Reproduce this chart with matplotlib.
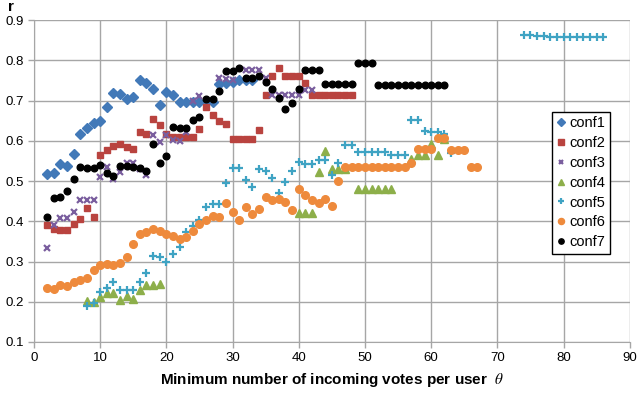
import matplotlib
matplotlib.use('Agg')
import matplotlib.pyplot as plt
import numpy as np

plt.rcParams['font.family'] = ['Liberation Sans', 'DejaVu Sans']
plt.rcParams['mathtext.fontset'] = 'stix'

# conf1
x1 = list(range(2, 34))
y1 = [0.518, 0.521, 0.542, 0.537, 0.567, 0.616, 0.632, 0.645, 0.648, 0.685,
      0.72, 0.717, 0.704, 0.71, 0.752, 0.743, 0.728, 0.689, 0.722, 0.714,
      0.697, 0.697, 0.697, 0.697, 0.697, 0.697, 0.742, 0.743, 0.745, 0.75,
      0.75, 0.75]

# conf2
x2 = list(range(2, 49))
y2 = [0.39, 0.382, 0.379, 0.379, 0.392, 0.406, 0.433, 0.41, 0.564, 0.577,
      0.587, 0.593, 0.585, 0.579, 0.621, 0.616, 0.654, 0.639, 0.616, 0.61,
      0.61, 0.61, 0.61, 0.629, 0.685, 0.664, 0.648, 0.643, 0.604, 0.604,
      0.604, 0.604, 0.627, 0.714, 0.762, 0.781, 0.76, 0.76, 0.76, 0.743,
      0.714, 0.714, 0.714, 0.714, 0.714, 0.714, 0.714]

# conf3
x3 = list(range(2, 26)) + [28, 29, 30] + list(range(32, 43))
y3 = [0.333, 0.39, 0.408, 0.408, 0.423, 0.452, 0.452, 0.454, 0.511, 0.536,
      0.506, 0.522, 0.546, 0.544, 0.529, 0.515, 0.614, 0.597, 0.614, 0.603,
      0.6, 0.621, 0.70, 0.712,
      0.757, 0.754, 0.75,
      0.775, 0.775, 0.775, 0.757, 0.714, 0.714, 0.714, 0.714, 0.714, 0.727,
      0.727]

# conf4
x4 = list(range(8, 20)) + list(range(40, 48)) + list(range(49, 55)) + list(range(57, 63))
y4 = [0.202, 0.2, 0.212, 0.222, 0.221, 0.204, 0.214, 0.208, 0.229, 0.242,
      0.242, 0.244,
      0.421, 0.421, 0.421, 0.523, 0.575, 0.53, 0.53, 0.53,
      0.479, 0.479, 0.479, 0.479, 0.479, 0.479,
      0.554, 0.564, 0.564, 0.592, 0.564, 0.604]

# conf5
x5 = list(range(8, 64)) + list(range(74, 87))
y5 = [0.189, 0.196, 0.225, 0.233, 0.248, 0.229, 0.228, 0.229, 0.25, 0.272,
      0.314, 0.311, 0.3, 0.318, 0.337, 0.373, 0.388, 0.403, 0.435, 0.443,
      0.443, 0.496, 0.533, 0.532, 0.502, 0.485, 0.529, 0.525, 0.508, 0.471,
      0.497, 0.525, 0.547, 0.542, 0.542, 0.552, 0.552, 0.514, 0.546, 0.59,
      0.59, 0.571, 0.571, 0.571, 0.571, 0.571, 0.565, 0.565, 0.565, 0.652,
      0.652, 0.625, 0.621, 0.621, 0.617, 0.569,
      0.862, 0.862, 0.861, 0.861, 0.859, 0.859, 0.858, 0.858, 0.858, 0.858,
      0.858, 0.858, 0.858]

# conf6
x6 = list(range(2, 68))
y6 = [0.233, 0.231, 0.242, 0.24, 0.248, 0.253, 0.258, 0.278, 0.292, 0.294,
      0.292, 0.296, 0.31, 0.344, 0.368, 0.373, 0.382, 0.375, 0.369, 0.364,
      0.357, 0.36, 0.375, 0.392, 0.403, 0.414, 0.41, 0.446, 0.423, 0.404,
      0.435, 0.418, 0.431, 0.46, 0.452, 0.456, 0.448, 0.429, 0.479, 0.465,
      0.454, 0.446, 0.456, 0.439, 0.5, 0.536, 0.536, 0.536, 0.536, 0.536,
      0.536, 0.536, 0.536, 0.536, 0.536, 0.546, 0.579, 0.579, 0.579, 0.608,
      0.608, 0.577, 0.577, 0.577, 0.535, 0.535]

# conf7
x7 = list(range(2, 63))
y7 = [0.411, 0.457, 0.46, 0.475, 0.506, 0.536, 0.533, 0.532, 0.539, 0.521,
      0.512, 0.537, 0.537, 0.536, 0.532, 0.525, 0.591, 0.544, 0.563, 0.635,
      0.632, 0.633, 0.652, 0.658, 0.704, 0.704, 0.725, 0.774, 0.774, 0.782,
      0.756, 0.756, 0.76, 0.746, 0.728, 0.706, 0.678, 0.695, 0.729, 0.777,
      0.777, 0.777, 0.741, 0.741, 0.741, 0.741, 0.741, 0.793, 0.793, 0.793,
      0.739, 0.739, 0.739, 0.739, 0.739, 0.739, 0.739, 0.739, 0.739, 0.739,
      0.739]

series = [
    ('conf1', x1, y1, 'D', '#4279B8', 5.0, 1.0),
    ('conf2', x2, y2, 's', '#B9433F', 5.0, 1.0),
    ('conf3', x3, y3, 'x', '#7A5E9E', 4.0, 1.6),
    ('conf4', x4, y4, '^', '#8DAF4A', 5.5, 1.0),
    ('conf5', x5, y5, '+', '#3FA3C3', 5.5, 1.6),
    ('conf6', x6, y6, 'o', '#EE8A3C', 5.5, 1.0),
    ('conf7', x7, y7, 'o', '#000000', 4.8, 1.0),
]

fig = plt.figure(figsize=(6.4, 3.94), dpi=100)
ax = fig.add_axes([0.053, 0.132, 0.931, 0.817])

for name, xs, ys, m, c, ms, mew in series:
    ax.plot(xs, ys, linestyle='none', marker=m, color=c, markersize=ms,
            markeredgewidth=mew, label=name)

ax.set_xlim(0, 90)
ax.set_ylim(0.1, 0.9)
ax.set_xticks(np.arange(0, 91, 10))
ax.set_yticks(np.arange(0.1, 0.91, 0.1))
ax.set_yticklabels(['%.1f' % v for v in np.arange(0.1, 0.91, 0.1)])
ax.grid(True, color='#a6a6a6', linewidth=1.0)
ax.set_axisbelow(True)
for s in ['top', 'right']:
    ax.spines[s].set_visible(False)
for s in ['left', 'bottom']:
    ax.spines[s].set_color('#a6a6a6')
ax.tick_params(axis='both', labelsize=9.5, color='#a6a6a6', length=4, width=1)

ax.set_xlabel(r'Minimum number of incoming votes per user  $\theta$',
              fontsize=11, fontweight='bold', labelpad=5)
fig.text(0.012, 0.982, 'r', fontsize=11, fontweight='bold', ha='left', va='center')

leg = ax.legend(loc='upper left', bbox_to_anchor=(0.87, 0.715), fontsize=10.5,
                fancybox=False, framealpha=1, edgecolor='black',
                handlelength=0.6, handletextpad=0.3, borderpad=0.3,
                labelspacing=0.4, markerscale=0.8, borderaxespad=0)
leg.get_frame().set_linewidth(1.0)

fig.savefig('out.png', dpi=100)
